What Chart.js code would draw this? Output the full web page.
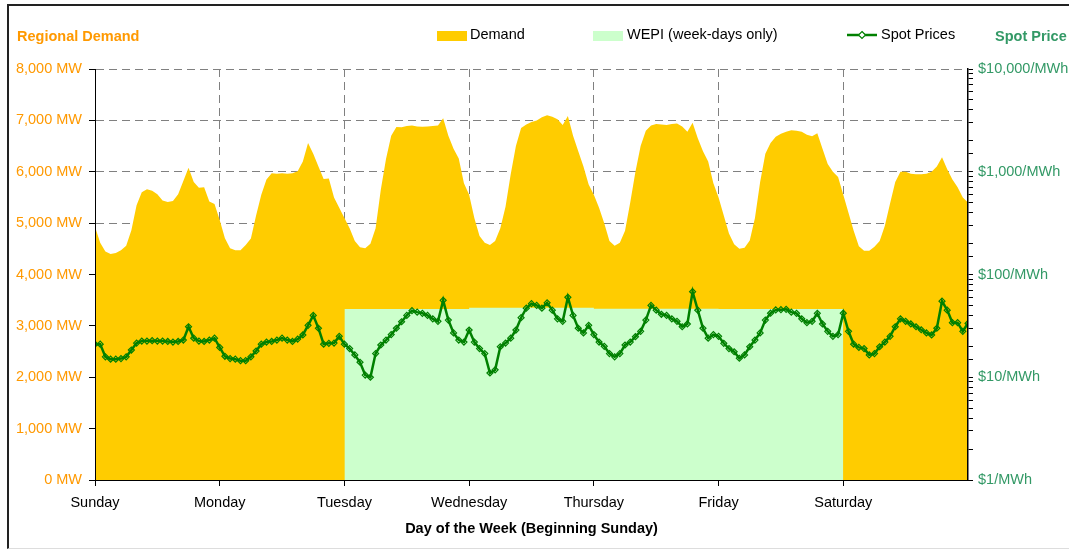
<!DOCTYPE html>
<html>
<head>
<meta charset="utf-8">
<script src="https://cdn.jsdelivr.net/npm/chart.js@4"></script>
<style>
  body { margin: 0; background: #fff; }
  #wrap { position: relative; width: 1069px; height: 549px; }
  #frame { position: absolute; left: 7px; top: 4px; width: 1080px; height: 542px;
           border-left: 2px solid #222; border-top: 2px solid #222; border-bottom: 1px solid #ddd; pointer-events: none; }
</style>
</head>
<body>
<div id="wrap">
  <canvas id="chart" width="1069" height="549"></canvas>
  <div id="frame"></div>
</div>
<script>
// categories (x axis = hours from Sunday 00:00)
const days = ['Sunday', 'Monday', 'Tuesday', 'Wednesday', 'Thursday', 'Friday', 'Saturday'];

// hourly regional demand, MW (169 readings, h0 .. h168)
const demand = [
  4930, 4620, 4450, 4400, 4420, 4470, 4560, 4860, 5350, 5600, 5660, 5630, 5560, 5440, 5410, 5430, 5560, 5820, 6080, 5800, 5690, 5700, 5420, 5370,
  5060, 4705, 4510, 4470, 4470, 4575, 4700, 5150, 5550, 5850, 5970, 5960, 5970, 5960, 5970, 6010, 6200, 6560, 6350, 6100, 5860, 5870, 5500, 5300,
  5100, 4900, 4650, 4530, 4510, 4600, 4900, 5650, 6250, 6700, 6870, 6865, 6890, 6900, 6880, 6877, 6880, 6890, 6900, 7040, 6700, 6450, 6260, 5775,
  5550, 5100, 4750, 4620, 4575, 4650, 4900, 5320, 5950, 6500, 6850, 6920, 6970, 7000, 7060, 7100, 7070, 7020, 6910, 7084, 6700, 6400, 6100, 5750,
  5550, 5300, 5000, 4650, 4560, 4620, 4850, 5400, 6000, 6500, 6800, 6900, 6930, 6920, 6910, 6930, 6940, 6880, 6780, 6955, 6650, 6400, 6200, 5775,
  5500, 5150, 4800, 4590, 4500, 4520, 4660, 5100, 5800, 6350, 6560, 6680, 6740, 6780, 6810, 6800, 6780, 6720, 6690, 6748, 6450, 6150, 6000, 5900,
  5550, 5200, 4850, 4550, 4460, 4460, 4540, 4650, 4950, 5380, 5800, 6000, 6000, 5960, 5950, 5950, 5960, 6000, 6100, 6280, 6050, 5850, 5700, 5500,
  5400
];

// hourly spot prices, $/MWh
const spotPrices = [
  21, 21, 15.8, 15, 15, 15.2, 15.8, 18.4, 21.5, 22.5, 22.5, 22.7, 22.5, 22.5, 22.3, 22, 22.3, 23, 31, 24, 22.5, 22.3, 23, 24,
  19.5, 16, 15.2, 15, 14.5, 14.5, 15.8, 18, 21, 22, 22.3, 23, 24, 23, 22.3, 23.5, 25.8, 32, 40, 30, 21, 21.4, 21.5, 25,
  21, 19, 16.5, 14, 10.5, 10, 17, 20.6, 23, 26, 30, 34.7, 40, 44.5, 43, 41.9, 40, 37, 35, 56, 36, 27, 23, 22,
  28.8, 22, 19, 17, 11, 11.8, 19.8, 21.5, 24, 28.8, 38, 47, 52, 50, 47, 53, 45, 37, 35, 60, 40, 30, 27, 32,
  26, 22, 20, 17, 15.8, 17, 20.6, 22, 24.8, 28, 36, 50, 45, 41, 40, 37, 35, 31, 33, 68, 45, 30, 24, 26,
  25, 21.4, 19, 17.7, 15.3, 16.5, 19.8, 23, 27, 36, 42, 45.2, 45.5, 45.8, 43, 41.9, 37, 34, 35, 41.9, 33, 28, 25, 26,
  42, 28, 21, 19.5, 19, 16.5, 17, 19.8, 22, 25, 31, 37, 35, 33, 31, 29, 27, 25.8, 30, 55, 45, 34, 34, 28,
  33.5
];

// WEPI (week-days only), $/MWh, one value per week-day starting at these hours
const wepiHours = [48, 72, 96, 120, 144];
const wepiValues = [46.2, 47.5, 46.5, 46.2, 46.2];

// tick labels of the price axis
const priceTicks = [1, 10, 100, 1000, 10000];

const FONT = "'Liberation Sans', Arial, sans-serif";
const ORANGE = '#FF9900';
const GREEN = '#339966';
const DEMAND_COLOR = '#FFCC00';
const WEPI_COLOR = '#CCFFCC';
const LINE_GREEN = '#008000';

Chart.defaults.font.family = FONT;
Chart.defaults.font.size = 14.5;

// horizontal axis titles + legend, drawn on the canvas
const titlesAndLegend = {
  id: 'titlesAndLegend',
  afterDraw(chart) {
    const ctx = chart.ctx;
    ctx.save();
    ctx.textBaseline = 'middle';
    ctx.font = 'bold 14.5px ' + FONT;
    ctx.fillStyle = ORANGE;
    ctx.fillText('Regional Demand', 17, 37);
    ctx.fillStyle = GREEN;
    ctx.fillText('Spot Price', 995, 37);

    ctx.font = '14.5px ' + FONT;
    ctx.fillStyle = DEMAND_COLOR;
    ctx.fillRect(437, 31, 30, 10);
    ctx.fillStyle = '#000';
    ctx.fillText('Demand', 470, 35);

    ctx.fillStyle = WEPI_COLOR;
    ctx.fillRect(593, 31, 30, 10);
    ctx.fillStyle = '#000';
    ctx.fillText('WEPI (week-days only)', 627, 35);

    ctx.strokeStyle = LINE_GREEN;
    ctx.lineWidth = 2.5;
    ctx.beginPath();
    ctx.moveTo(847, 35);
    ctx.lineTo(877, 35);
    ctx.stroke();
    ctx.lineWidth = 1.2;
    ctx.fillStyle = '#fff';
    ctx.beginPath();
    ctx.moveTo(862, 31.5);
    ctx.lineTo(865.5, 35);
    ctx.lineTo(862, 38.5);
    ctx.lineTo(858.5, 35);
    ctx.closePath();
    ctx.fill();
    ctx.stroke();
    ctx.fillStyle = '#000';
    ctx.fillText('Spot Prices', 881, 35);
    ctx.restore();
  }
};

const dashed = [8, 5];

new Chart(document.getElementById('chart'), {
  type: 'line',
  data: {
    datasets: [
      {
        label: 'Demand',
        data: demand.map((v, i) => ({ x: i, y: v })),
        yAxisID: 'y',
        backgroundColor: DEMAND_COLOR,
        borderWidth: 0,
        pointRadius: 0,
        fill: 'origin',
        tension: 0,
        order: 3
      },
      {
        label: 'WEPI (week-days only)',
        data: wepiHours.map((h, i) => ({ x: h, y: wepiValues[i] })),
        yAxisID: 'yP',
        backgroundColor: WEPI_COLOR,
        borderWidth: 0,
        pointRadius: 0,
        stepped: true,
        fill: 'start',
        order: 2
      },
      {
        label: 'Spot Prices',
        data: spotPrices.map((v, i) => ({ x: i, y: v })),
        yAxisID: 'yP',
        borderColor: LINE_GREEN,
        borderWidth: 2.5,
        pointStyle: 'rectRot',
        pointRadius: 3,
        pointBorderWidth: 1.2,
        pointBorderColor: LINE_GREEN,
        pointBackgroundColor: 'rgba(0,0,0,0)',
        fill: false,
        tension: 0,
        order: 1
      }
    ]
  },
  options: {
    responsive: false,
    animation: false,
    layout: { padding: { top: 69, left: 0, right: 0, bottom: 7 } },
    plugins: {
      legend: { display: false },
      tooltip: { enabled: false }
    },
    scales: {
      x: {
        type: 'linear',
        min: 0,
        max: 168,
        afterFit: s => { s.height = 62; },
        ticks: {
          stepSize: 24,
          autoSkip: false,
          maxRotation: 0,
          padding: 8,
          color: '#000',
          callback: v => days[v / 24] || ''
        },
        grid: {
          color: ctx => (ctx.index === 0 || ctx.index === 7) ? 'rgba(0,0,0,0)' : '#808080',
          tickLength: 6,
          tickColor: ctx => ctx.index === 7 ? 'rgba(0,0,0,0)' : '#000',
          tickBorderDash: []
        },
        // in v4 border.dash also dashes the grid lines
        border: { display: true, color: '#000', width: 1, z: 1, dash: dashed },
        title: {
          display: true,
          text: 'Day of the Week (Beginning Sunday)',
          color: '#000',
          font: { weight: 'bold', size: 14.5 },
          padding: { top: 4, bottom: 4 }
        }
      },
      y: {
        position: 'left',
        min: 0,
        max: 8000,
        afterFit: s => { s.width = 95; },
        ticks: {
          stepSize: 1000,
          padding: 7,
          color: ORANGE,
          callback: v => v.toLocaleString('en-US') + ' MW'
        },
        grid: {
          color: ctx => ctx.index === 0 ? 'rgba(0,0,0,0)' : '#808080',
          tickLength: 6,
          tickColor: '#000',
          tickBorderDash: []
        },
        border: { display: true, color: '#000', width: 1, z: 1, dash: dashed }
      },
      yP: {
        type: 'logarithmic',
        position: 'right',
        min: 1,
        max: 10000,
        afterFit: s => { s.width = 101; },
        ticks: {
          autoSkip: false,
          padding: 5,
          color: GREEN,
          callback: v => priceTicks.includes(v) ? '$' + v.toLocaleString('en-US') + '/MWh' : ''
        },
        grid: {
          drawOnChartArea: false,
          tickLength: 5,
          tickColor: '#000'
        },
        border: { display: true, color: '#000', width: 1.5, z: 1 }
      }
    }
  },
  plugins: [titlesAndLegend]
});
</script>
</body>
</html>
